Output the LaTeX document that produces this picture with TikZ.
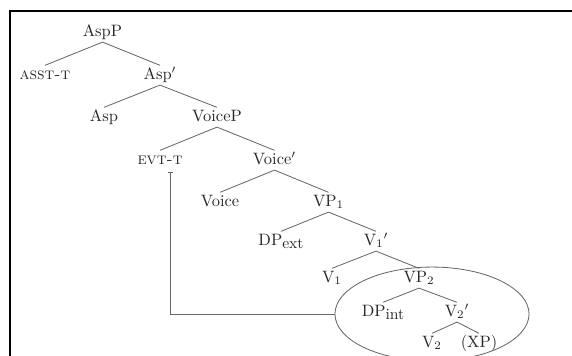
\documentclass[tikz,border=0pt]{standalone}
\usetikzlibrary{shapes.geometric,arrows.meta,calc}
\newcommand{\bigsub}[1]{\raisebox{-2.4pt}{\fontsize{9.5}{9.5}\selectfont #1}}
\begin{document}
\begin{tikzpicture}[x=0.607pt,y=-0.607pt,
  lab/.style={anchor=base, inner sep=1.5pt, text height=6.6pt, text depth=2pt, text=black!85, font=\fontsize{10}{12}\selectfont},
  branch/.style={draw=black!60, line width=0.5pt},
  frameline/.style={draw=black, line width=1.2pt}]
\useasboundingbox (0,0) rectangle (572,355);
% frame (top and left edges)
\draw[frameline] (572,11) -- (10,11) -- (10,356);
% nodes
\node[lab] (aspp) at (102.5,36) {AspP};
\node[lab] (asst) at (45,79) {\textsc{asst-t}};
\node[lab] (aspbar) at (160,79) {Asp$'$};
\node[lab] (asp) at (104,121) {Asp};
\node[lab] (voicep) at (217,121) {VoiceP};
\node[lab] (evt) at (160,164) {\textsc{evt-t}};
\node[lab] (voicebar) at (274.5,164) {Voice$'$};
\node[lab] (voice) at (220,206) {Voice};
\node[lab] (vp1) at (328.5,206) {VP$_1$};
\node[lab] (dpext) at (281,245) {DP\bigsub{ext}};
\node[lab] (v1bar) at (376,245) {V$_1{}'$};
\node[lab] (v1) at (332,282) {V$_1$};
\node[lab] (vp2) at (419,282) {VP$_2$};
\node[lab] (dpint) at (383,316) {DP\bigsub{int}};
\node[lab] (v2bar) at (457,316) {V$_2{}'$};
\node[lab] (v2) at (432,347) {V$_2$};
\node[lab] (xp) at (479,347) {(XP)};
% branches
\foreach \p/\c in {aspp/asst, aspp/aspbar, aspbar/asp, aspbar/voicep,
  voicep/evt, voicep/voicebar, voicebar/voice, voicebar/vp1,
  vp1/dpext, vp1/v1bar, v1bar/v1, v1bar/vp2, vp2/dpint, vp2/v2bar,
  v2bar/v2, v2bar/xp}
  \draw[branch] (\p.south) -- (\c.north);
% ellipse
\node[draw=black!60, line width=0.5pt, ellipse, inner sep=0pt,
  minimum width=117.8pt, minimum height=57pt] (ell) at (432,314) {};
% connector from EVT-T to ellipse
\coordinate (tstart) at ($(evt.south)+(10.7,1.5)$);
\draw[branch, {Bar[width=3pt,line width=0.5pt]}-] (tstart) |- (ell.west);
\end{tikzpicture}
\end{document}
